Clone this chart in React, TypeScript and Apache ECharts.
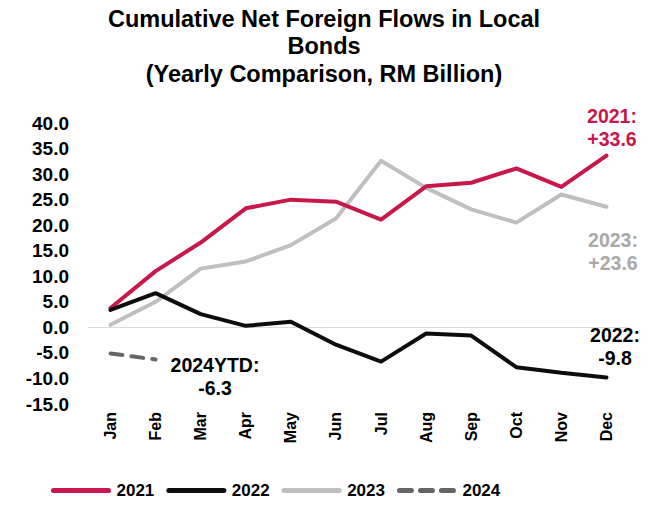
import React, { useEffect, useRef } from "react";
import * as echarts from "echarts";

const months = ["Jan", "Feb", "Mar", "Apr", "May", "Jun", "Jul", "Aug", "Sep", "Oct", "Nov", "Dec"];
const y2021 = [3.8, 11.0, 16.6, 23.3, 25.0, 24.6, 21.1, 27.6, 28.3, 31.1, 27.5, 33.6];
const y2022 = [3.4, 6.7, 2.6, 0.3, 1.1, -3.4, -6.7, -1.2, -1.6, -7.8, -8.9, -9.8];
const y2023 = [0.5, 5.0, 11.5, 12.9, 16.1, 21.3, 32.6, 27.3, 23.1, 20.5, 26.0, 23.6];
const y2024 = [-5.1, -6.3];
const yTicks = { min: -15, max: 40, step: 5 };

const FONT = "'Liberation Sans', Arial, sans-serif";

export default function App() {
  const ref = useRef<HTMLDivElement>(null);
  useEffect(() => {
    if (!ref.current) return;
    const chart = echarts.init(ref.current, undefined, { renderer: "svg" });
    const lineSeries = (name: string, data: number[], color: string, extra: any = {}) => ({
      name,
      type: "line",
      data,
      symbol: "none",
      showSymbol: false,
      smooth: false,
      lineStyle: { color, width: 4, cap: "round", join: "round", ...(extra.lineStyle || {}) },
      itemStyle: { color },
      z: extra.z ?? 2,
      ...(extra.markLine ? { markLine: extra.markLine } : {}),
    });
    const note = (text: string, x: number, y: number, fill: string) => ({
      type: "text",
      x,
      y,
      style: { text, fill, font: `bold 19.5px ${FONT}`, textAlign: "center", textVerticalAlign: "top", lineHeight: 23 },
    });
    chart.setOption({
      animation: false,
      textStyle: { fontFamily: FONT },
      title: {
        text: "Cumulative Net Foreign Flows in Local\nBonds\n(Yearly Comparison, RM Billion)",
        left: 319,
        top: 0,
        textAlign: "center",
        textStyle: { fontFamily: FONT, fontSize: 23.5, fontWeight: "bold", color: "#000", lineHeight: 27.5 },
      },
      grid: { left: 88, right: 19, top: 123, bottom: 103, containLabel: false },
      legend: {
        bottom: 3,
        left: 46,
        itemWidth: 55,
        itemHeight: 14,
        itemGap: 12,
        itemStyle: { opacity: 0 },
        lineStyle: { width: 5, cap: "round" },
        textStyle: { fontFamily: FONT, fontSize: 17, fontWeight: "bold", color: "#000", padding: [0, 0, 0, 3] },
        data: ["2021", "2022", "2023", "2024"],
      },
      xAxis: {
        type: "category",
        data: months,
        boundaryGap: true,
        axisLine: { show: false, onZero: false },
        axisTick: { show: false },
        axisLabel: { rotate: 90, margin: 8, fontSize: 16, fontWeight: "bold", color: "#000", fontFamily: FONT },
      },
      yAxis: {
        type: "value",
        min: yTicks.min,
        max: yTicks.max,
        interval: yTicks.step,
        axisLine: { show: false },
        axisTick: { show: false },
        splitLine: { show: false },
        axisLabel: {
          fontSize: 19,
          fontWeight: "bold",
          color: "#000",
          fontFamily: FONT,
          margin: 19,
          formatter: (v: number) => v.toFixed(1),
        },
      },
      series: [
        lineSeries("2023", y2023, "#BFBFBF", {
          z: 2,
          markLine: {
            silent: true,
            symbol: "none",
            label: { show: false },
            lineStyle: { color: "#D9D9D9", width: 1, type: "solid" },
            data: [{ yAxis: 0 }],
            z: 1,
          },
        }),
        lineSeries("2021", y2021, "#C8174A", { z: 3 }),
        lineSeries("2022", y2022, "#0D0D0D", { z: 4 }),
        lineSeries("2024", y2024, "#666666", { z: 4, lineStyle: { type: [12, 9] } }),
      ],
      graphic: [
        note("2021:\n+33.6", 612, 104, "#C8174A"),
        note("2023:\n+23.6", 613, 228, "#A9A9A9"),
        note("2022:\n-9.8", 615, 323, "#000"),
        note("2024YTD:\n-6.3", 215, 353, "#000"),
      ],
    });
    return () => chart.dispose();
  }, []);
  return <div ref={ref} style={{ position: "fixed", left: 0, top: 0, width: 648, height: 507, background: "#fff" }} />;
}
